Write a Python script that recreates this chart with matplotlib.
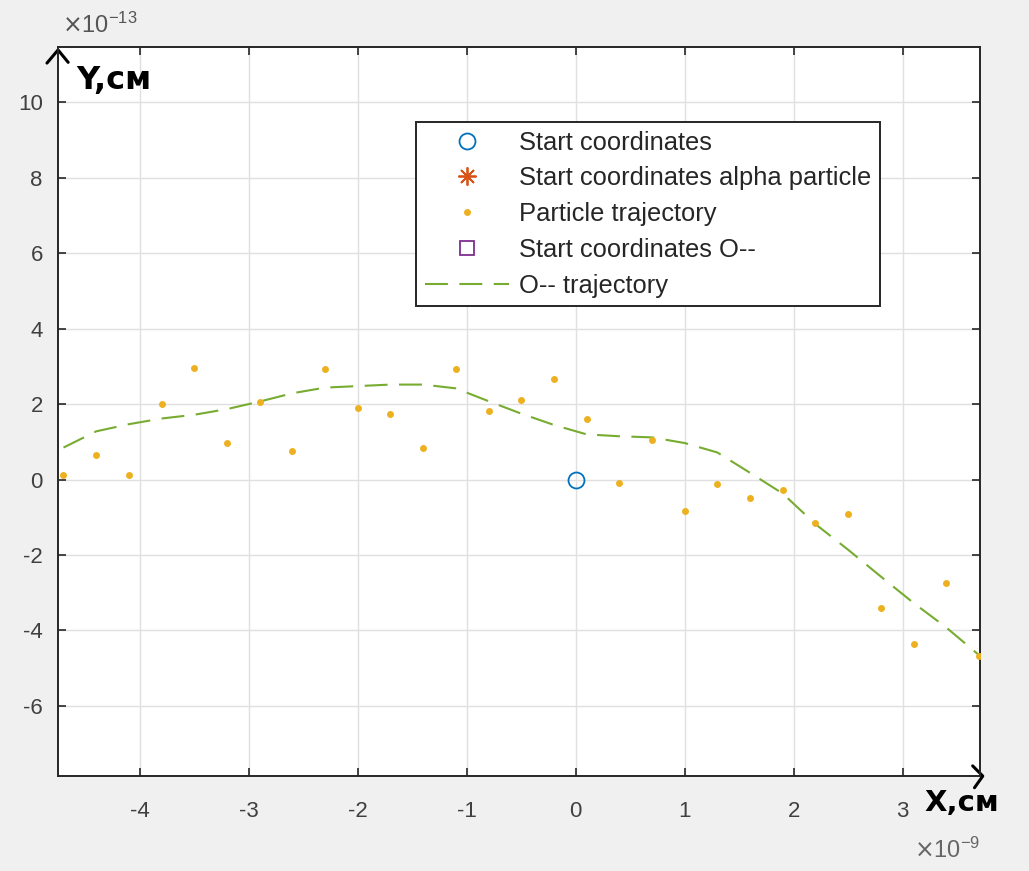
import matplotlib.pyplot as plt

plt.rcParams['font.family'] = ['Liberation Sans', 'DejaVu Sans']
plt.rcParams['axes.unicode_minus'] = False

# x in units of 1e-9 cm, y in units of 1e-13 cm
x_traj = [-4.7, -4.4, -4.1, -3.8, -3.5, -3.2, -2.9, -2.6, -2.3, -2.0,
          -1.7, -1.4, -1.1, -0.8, -0.5, -0.2, 0.1, 0.4, 0.7, 1.0,
          1.3, 1.6, 1.9, 2.2, 2.5, 2.8, 3.1, 3.4, 3.7]
y_particle = [0.13, 0.64, 0.13, 2.0, 2.97, 0.98, 2.07, 0.77, 2.92, 1.89,
              1.75, 0.85, 2.92, 1.83, 2.12, 2.68, 1.62, -0.08, 1.06, -0.82,
              -0.11, -0.50, -0.27, -1.14, -0.90, -3.40, -4.36, -2.74, -4.67]
y_oxygen = [0.85, 1.28, 1.47, 1.62, 1.72, 1.87, 2.07, 2.29, 2.44, 2.48,
            2.52, 2.52, 2.42, 2.08, 1.75, 1.45, 1.20, 1.15, 1.12, 0.97,
            0.72, 0.18, -0.37, -1.18, -1.86, -2.57, -3.27, -3.92, -4.65]
start_xy = [0.0], [0.0]
alpha_start = [], []
oxygen_start = [], []

x_ticks = [-4, -3, -2, -1, 0, 1, 2, 3]
y_ticks = [-6, -4, -2, 0, 2, 4, 6, 8, 10]

fig = plt.figure(figsize=(10.29, 8.71), dpi=100, facecolor='#f0f0f0')
ax = fig.add_axes([0.0564, 0.1090, 0.8960, 0.8370])

ax.plot(*start_xy, 'o', color='#0072BD', ms=11.5, mfc='none', mew=1.3,
        label='Start coordinates', zorder=4)
ax.plot(*alpha_start, marker=(8, 2, 0), ls='none', color='#D95319', ms=13, mew=1.3,
        label='Start coordinates alpha particle')
ax.plot(x_traj, y_particle, 'o', color='#EDB120', ms=5, mew=0,
        label='Particle trajectory', zorder=3)
ax.plot(*oxygen_start, 's', color='#7E2F8E', ms=10, mfc='none', mew=1.3,
        label='Start coordinates O--')
ax.plot(x_traj, y_oxygen, color='#77AC30', lw=1.5, dashes=(11, 5.5),
        label='O-- trajectory', zorder=2)

ax.set_xlim(-4.75, 3.71)
ax.set_ylim(-7.86, 11.47)
ax.set_xticks(x_ticks)
ax.set_yticks(y_ticks)
ax.grid(True, color='#e0e0e0', lw=1)
ax.set_axisbelow(True)
for s in ax.spines.values():
    s.set_color('#262626')
    s.set_linewidth(1.4)
ax.tick_params(direction='in', length=6, width=1.2, color='#262626',
               top=True, right=True, labelsize=16, labelcolor='#404040')
ax.tick_params(axis='x', pad=18)
ax.tick_params(axis='y', pad=11)

leg = ax.legend(loc='upper right', bbox_to_anchor=(0.8915, 0.897), borderaxespad=0,
                fontsize=18.4, fancybox=False, framealpha=1, edgecolor='#262626',
                handlelength=3.3, handletextpad=0.4, labelspacing=0.46,
                borderpad=0.33, numpoints=1)
leg.get_frame().set_linewidth(1.4)
for t in leg.get_texts():
    t.set_color('#262626')

# offset (exponent) labels
ax.text(0.004, 1.012, r'$\times\mathregular{10^{-13}}$', transform=ax.transAxes,
        fontsize=17, color='#555555', ha='left', va='bottom')
ax.text(1.0, -0.085, r'$\times\mathregular{10^{-9}}$', transform=ax.transAxes,
        fontsize=17, color='#666666', ha='right', va='top')

# hand-drawn axis arrows and labels
ax.plot([-0.012, 0.0, 0.011], [0.978, 0.996, 0.979], color='black', lw=2.2,
        transform=ax.transAxes, clip_on=False, solid_capstyle='round')
ax.plot([0.992, 1.003, 0.994], [0.014, 0.0, -0.016], color='black', lw=2.2,
        transform=ax.transAxes, clip_on=False, solid_capstyle='round')
ax.text(0.02, 0.975, 'Y,см', transform=ax.transAxes, fontsize=23,
        fontweight='bold', family='DejaVu Sans', ha='left', va='top')
ax.text(0.94, -0.018, 'X,см', transform=ax.transAxes, fontsize=21,
        fontweight='bold', family='DejaVu Sans', ha='left', va='top', clip_on=False)

fig.savefig('out.png', dpi=100, facecolor=fig.get_facecolor())
